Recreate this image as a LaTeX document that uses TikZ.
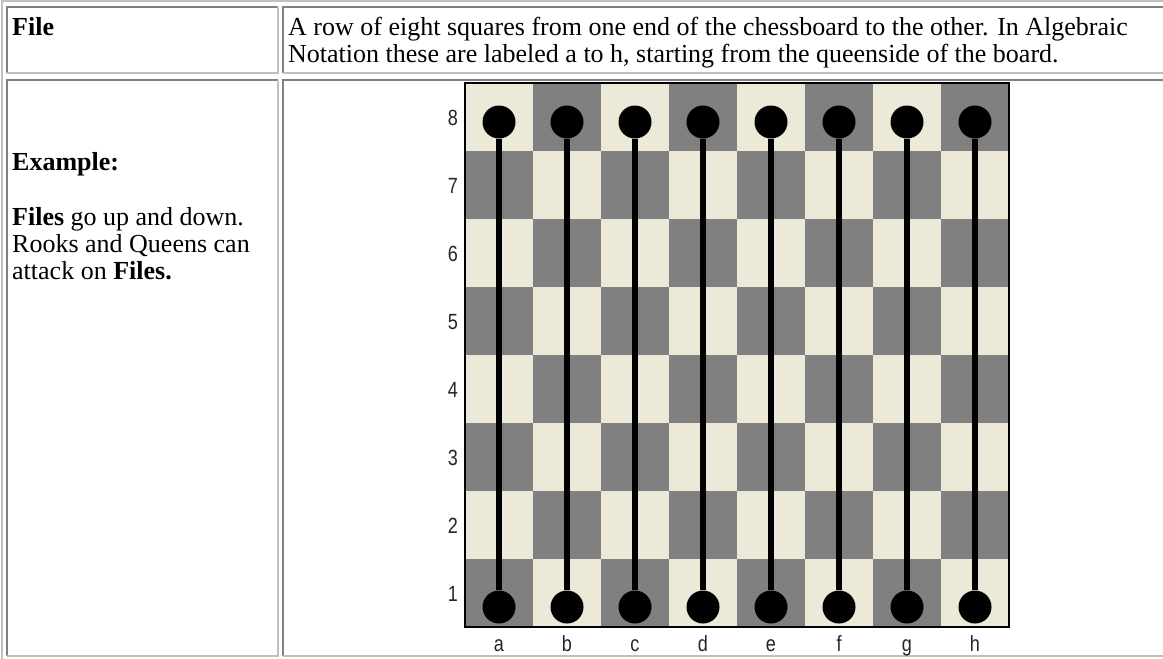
\documentclass[tikz,border=0pt]{standalone}
\usepackage{fontspec}
\setmainfont{Liberation Serif}
\newfontfamily\boardfont[FakeStretch=0.82]{Liberation Sans}
\usetikzlibrary{positioning}

\definecolor{lightsq}{RGB}{236,233,216}
\definecolor{darksq}{RGB}{128,128,128}
\definecolor{edgedark}{RGB}{128,128,128}
\definecolor{edgelight}{RGB}{192,192,192}

\begin{document}
\begin{tikzpicture}[
        x=1pt, y=-1pt,
        % ----- table -----
        edge dark/.style={draw=edgedark, line width=2pt},
        edge light/.style={draw=edgelight, line width=2pt},
        cell text/.style={anchor=base west, inner sep=0pt, font=\fontsize{26}{27}\selectfont},
        % ----- board -----
        coord label/.style={anchor=base, inner sep=0pt, text=black!85, font=\boardfont\fontsize{22}{22}\selectfont},
        piece/.style={circle, fill=black, minimum size=33pt, inner sep=0pt},
        file line/.style={line width=6.5pt, black}
    ]
    \useasboundingbox (0,0) rectangle (1163,659);
    \fill[white] (0,0) rectangle (1163,659);

    % outer table edge
    \draw[edge light] (2,660) -- (2,1) -- (1165,1);

    % cells: dark on top/left, light on bottom/right
    \draw[edge dark] (7,73) -- (7,7) -- (278,7);
    \draw[edge light] (7,73) -- (278,73) -- (278,7);
    \draw[edge dark] (283,73) -- (283,7) -- (1165,7);
    \draw[edge light] (283,73) -- (1165,73);
    \draw[edge dark] (7,656) -- (7,80) -- (278,80);
    \draw[edge light] (7,656) -- (278,656) -- (278,80);
    \draw[edge dark] (283,656) -- (283,80) -- (1165,80);
    \draw[edge light] (283,656) -- (1165,656);

    % ----- texts -----
    \node[cell text, font=\bfseries\fontsize{26}{27}\selectfont] (term) at (12,35) {File};
    \node[cell text] (defn1) at (288,35) {A row of eight squares from one end of the chessboard to the other. In Algebraic};
    \node[cell text] (defn2) at (288,62) {Notation these are labeled a to h, starting from the queenside of the board.};
    \node[cell text, font=\bfseries\fontsize{26}{27}\selectfont] (example) at (12,170) {Example:};
    \node[cell text] (note1) at (12,225) {\textbf{Files} go up and down.};
    \node[cell text] (note2) at (12,252) {Rooks and Queens can};
    \node[cell text] (note3) at (12,279) {attack on \textbf{Files.}};

    % ----- board -----
    \foreach \c in {0,...,7}
        \foreach \r in {0,...,7} {
            \pgfmathtruncatemacro{\odd}{mod(\c+\r,2)}
            \ifnum\odd=0 \def\sq{lightsq}\else\def\sq{darksq}\fi
            \fill[\sq] ({465+68*\c},{83+68*\r}) rectangle ++(68,68);
        }
    \draw[black, line width=2pt] (465,83) rectangle (1009,627);

    \foreach \r [count=\i] in {8,...,1}
        \node[coord label] (rank\r) at (453,{57+68*\i}) {\r};
    \foreach \f [count=\i] in {a,...,h}
        \node[coord label] (file\f) at ({431+68*\i},651) {\f};

    % ----- pieces and files -----
    \foreach \f [count=\i] in {a,...,h} {
        \node[piece] (\f8) at ({431+68*\i},122) {};
        \node[piece] (\f1) at ({431+68*\i},607) {};
        \draw[file line] (\f8) -- (\f1);
    }
\end{tikzpicture}
\end{document}
